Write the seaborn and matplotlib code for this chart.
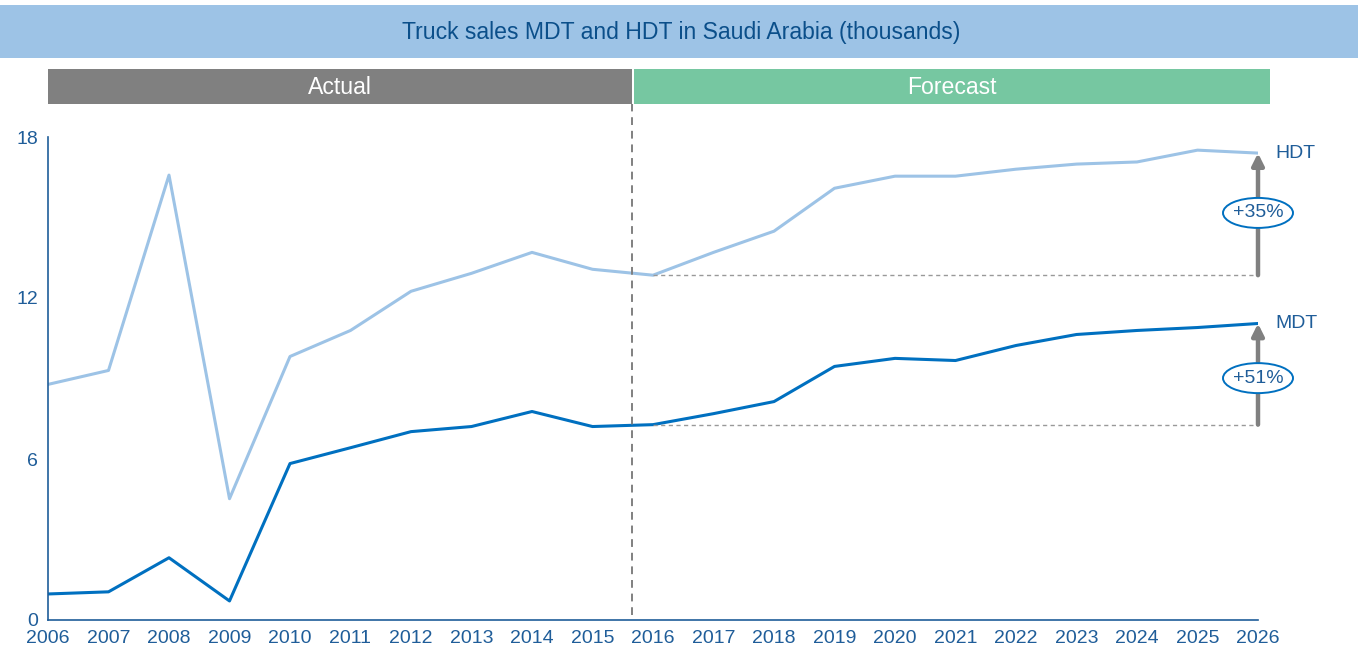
import matplotlib
matplotlib.use("Agg")
import matplotlib.pyplot as plt
from matplotlib.patches import Rectangle, Ellipse
import seaborn as sns
import pandas as pd

years = list(range(2006, 2027))
hdt = [8.78, 9.30, 16.58, 4.52, 9.82, 10.79, 12.25, 12.92, 13.70, 13.07, 12.85,
       13.70, 14.49, 16.09, 16.54, 16.54, 16.80, 16.99, 17.07, 17.51, 17.40]
mdt = [0.97, 1.05, 2.32, 0.71, 5.83, 6.42, 7.02, 7.21, 7.77, 7.21, 7.28,
       7.69, 8.14, 9.45, 9.75, 9.67, 10.23, 10.64, 10.79, 10.90, 11.05]
series_names = ["HDT", "MDT"]
growth_labels = ["+35%", "+51%"]
title = "Truck sales MDT and HDT in Saudi Arabia (thousands)"
y_ticks = [0, 6, 12, 18]
split_year = 2015.65
base_year = 2016

sns.set_style("white")
plt.rcParams["font.family"] = ["Liberation Sans", "DejaVu Sans"]

df = pd.DataFrame({"year": years * 2,
                   "value": hdt + mdt,
                   "series": ["HDT"] * len(years) + ["MDT"] * len(years)})

W, H = 1358, 653
fig = plt.figure(figsize=(W / 100, H / 100), dpi=100)
ax = fig.add_axes([48 / W, 1 - 620 / H, (1258 - 48) / W, (620 - 137) / H])

palette = {"HDT": "#9DC3E6", "MDT": "#0070C0"}
sns.lineplot(data=df, x="year", y="value", hue="series", palette=palette,
             linewidth=2.2, ax=ax, legend=False)

ax.set_xlim(2006, 2026)
ax.set_ylim(0, 18)
ax.set_xticks(years)
ax.set_yticks(y_ticks)
txtc = "#1F5D99"
ax.tick_params(axis="x", colors=txtc, labelsize=14, length=4, width=1, direction="out", pad=3.5, labelcolor=txtc)
ax.tick_params(axis="y", length=0, labelsize=14, pad=7, labelcolor=txtc)
for s in ["top", "right"]:
    ax.spines[s].set_visible(False)
for s in ["left", "bottom"]:
    ax.spines[s].set_color("#1F5D99")
    ax.spines[s].set_linewidth(1.2)
ax.set_xlabel("")
ax.set_ylabel("")

# vertical dashed split line
ax.plot([split_year, split_year], [0.2, 19.22], color="#808080", linestyle=(0, (4, 3)),
        linewidth=1.4, clip_on=False)

# growth arrows and base lines
bi = years.index(base_year)
px_x = 60.5
px_y = 483 / 18
label_frac = [0.51, 0.46]
for vals, name, lab, fr in zip([hdt, mdt], series_names, growth_labels, label_frac):
    b = vals[bi]
    e = vals[-1]
    ax.plot([base_year, 2026], [b, b], color="#999999", linestyle=(0, (3, 2.5)), linewidth=1)
    ax.annotate("", xy=(2026, e), xytext=(2026, b),
                arrowprops=dict(arrowstyle="-|>,head_length=0.7,head_width=0.35",
                                color="#808080", lw=3.2, shrinkA=0, shrinkB=0),
                annotation_clip=False)
    ax.text(2026.28, e, name, color="#1F5D99", fontsize=14, ha="left", va="center")
    mid = b + (e - b) * fr
    ax.add_patch(Ellipse((2026, mid), 70 / px_x, 30 / px_y, facecolor="white",
                         edgecolor="#0070C0", lw=1.4, clip_on=False, zorder=5))
    ax.text(2026, mid, lab, color="#1F5D99", fontsize=14, ha="center", va="center", zorder=6)

# title band
fig.patches.append(Rectangle((0, 1 - 58 / H), 1, 53 / H, transform=fig.transFigure,
                             facecolor="#9DC3E6", edgecolor="none"))
fig.text(681 / W, 1 - 32 / H, title, color="#0B4F8A", fontsize=16.6, ha="center", va="center")

# actual / forecast bars
fig.patches.append(Rectangle((48 / W, 1 - 104 / H), (632 - 48) / W, 35 / H, transform=fig.transFigure,
                             facecolor="#808080", edgecolor="none"))
fig.patches.append(Rectangle((634 / W, 1 - 104 / H), (1270 - 634) / W, 35 / H, transform=fig.transFigure,
                             facecolor="#76C7A1", edgecolor="none"))
fig.text(340 / W, 1 - 88 / H, "Actual", color="white", fontsize=16.6, ha="center", va="center")
fig.text(952 / W, 1 - 88 / H, "Forecast", color="white", fontsize=16.6, ha="center", va="center")

fig.savefig("out.png", dpi=100)
